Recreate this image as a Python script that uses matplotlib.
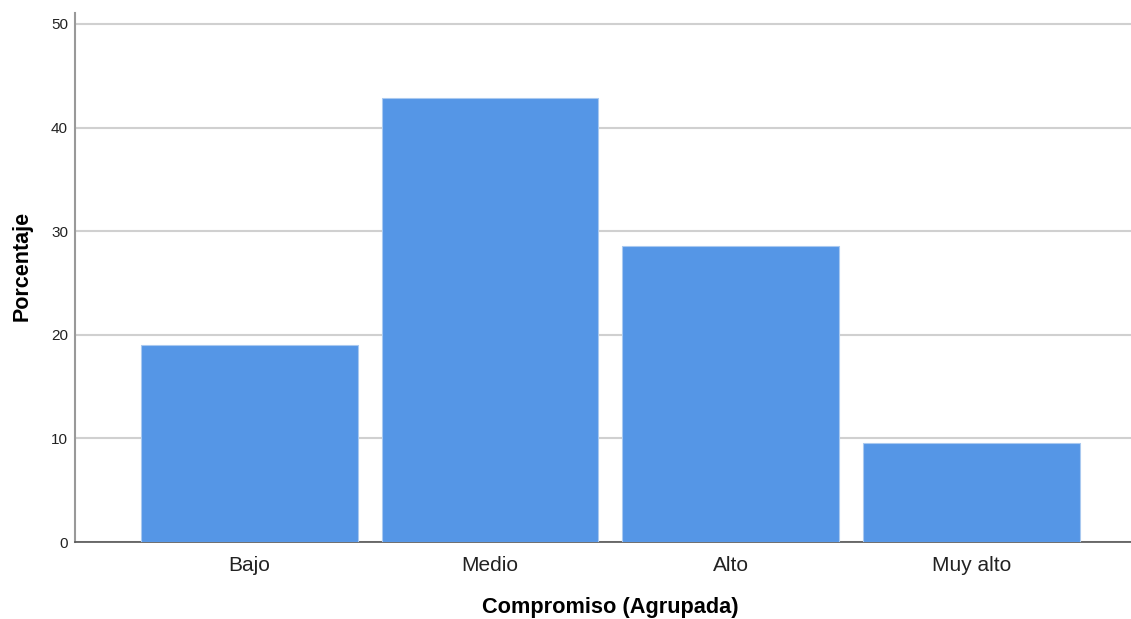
import matplotlib.pyplot as plt

plt.rcParams['font.family'] = ['Liberation Sans', 'DejaVu Sans']

categories = ['Bajo', 'Medio', 'Alto', 'Muy alto']
percentages = [19.05, 42.86, 28.57, 9.52]

fig = plt.figure(figsize=(11.31, 6.19), dpi=100)
ax = fig.add_axes([75 / 1131, 1 - 542 / 619, 1 - 75 / 1131, (542 - 13) / 619])

ax.bar(range(len(categories)), percentages, width=0.9, color='#5596E6',
       edgecolor='#a9c9f0', linewidth=0.8, zorder=3)

ax.set_xlim(-0.725, 3.663)
ax.set_ylim(0, 51.06)
ax.set_yticks([0, 10, 20, 30, 40, 50])
ax.set_xticks(range(len(categories)))
ax.set_xticklabels(categories)
ax.yaxis.grid(True, color='#d0d0d0', linewidth=1.5, zorder=0)

ax.tick_params(axis='y', length=0, labelsize=11, pad=5, labelcolor='#222222')
ax.tick_params(axis='x', length=0, labelsize=15, pad=10, labelcolor='#222222')

for side in ['top', 'right']:
    ax.spines[side].set_visible(False)
ax.spines['left'].set_color('#999999')
ax.spines['left'].set_linewidth(1.5)
ax.spines['bottom'].set_color('#555555')
ax.spines['bottom'].set_linewidth(1.2)

ax.set_ylabel('Porcentaje', fontsize=15.5, fontweight='bold')
ax.set_xlabel('Compromiso (Agrupada)', fontsize=15.7, fontweight='bold')
ax.xaxis.set_label_coords(0.5066, -0.104)
ax.yaxis.set_label_coords(-0.0398, 0.522)

fig.savefig('out.png', dpi=100)
